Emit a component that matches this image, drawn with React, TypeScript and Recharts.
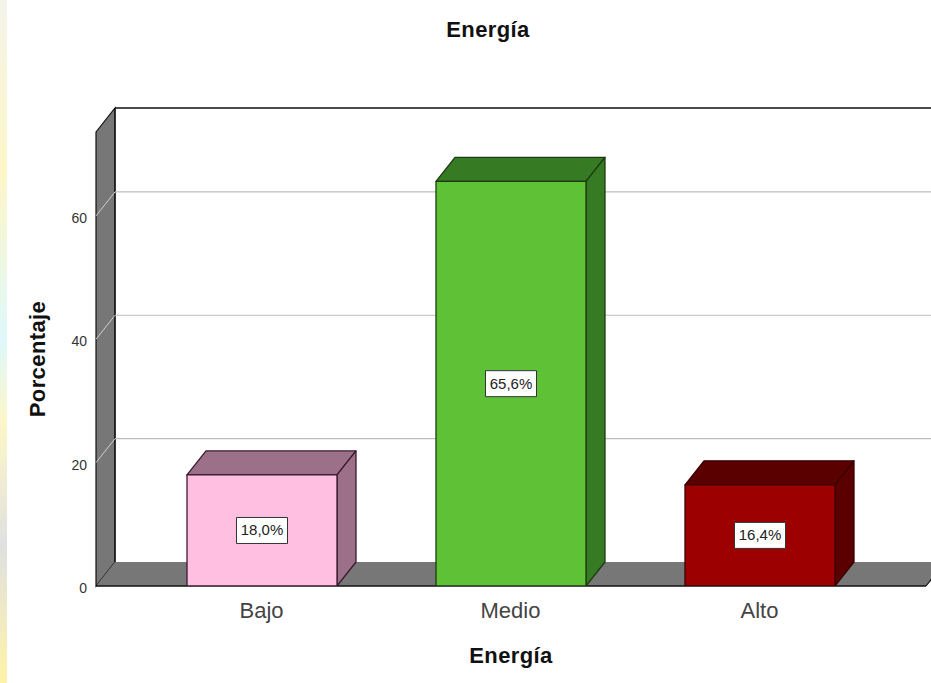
import React from "react";
import { BarChart, Bar, XAxis, YAxis, ReferenceArea, ReferenceLine, Label } from "recharts";

const categories = ["Bajo", "Medio", "Alto"];
const percentages = [18.0, 65.6, 16.4];
const yTicks = [0, 20, 40, 60];
const gridValues = [20, 40, 60];
const frontColors = ["#FFBFE0", "#5FC236", "#9C0000"];
const sideColors = ["#9C7088", "#367A24", "#5A0000"];
const edgeColors = ["#3A1A30", "#1E3A10", "#3A0000"];
const data = categories.map((name, i) => ({ name, value: percentages[i] }));

const DX = 19;
const DY = 24;
const PAD_LEFT = 41;
const PAD_RIGHT = 42;
const FONT = "'Liberation Sans', Arial, sans-serif";

function Bar3D(props: any) {
  const { x, y, width, height, index, value } = props;
  const v = Array.isArray(value) ? value[1] : value;
  const side = sideColors[index];
  const edge = edgeColors[index];
  const cx = x + width / 2;
  const cy = y + height / 2;
  return (
    <g stroke={edge} strokeWidth={1.3} strokeLinejoin="round">
      <polygon points={`${x},${y} ${x + DX},${y - DY} ${x + width + DX},${y - DY} ${x + width},${y}`} fill={side} />
      <polygon points={`${x + width},${y} ${x + width + DX},${y - DY} ${x + width + DX},${y + height - DY} ${x + width},${y + height}`} fill={side} />
      <rect x={x} y={y} width={width} height={height} fill={frontColors[index]} />
      <rect x={cx - 25.5} y={cy - 13} width={51} height={26} fill="#fff" stroke="#333" strokeWidth={1} />
      <text x={cx} y={cy + 5} textAnchor="middle" fontSize={15} fontFamily={FONT} fill="#222" stroke="none">
        {v.toFixed(1).replace(".", ",")}%
      </text>
    </g>
  );
}

function Walls(props: any) {
  const { y, height } = props;
  const x = props.x - PAD_LEFT;
  const r = props.x + props.width + PAD_RIGHT;
  const b = y + height;
  return (
    <g>
      <polygon points={`${x},${y} ${x + DX},${y - DY} ${x + DX},${b - DY} ${x},${b}`} fill="#777" stroke="#111" strokeWidth={1.2} />
      <polygon points={`${x},${b} ${x + DX},${b - DY} ${r + DX},${b - DY} ${r},${b}`} fill="#777" />
      <line x1={x + DX} y1={y - DY} x2={r + DX} y2={y - DY} stroke="#111" strokeWidth={1.6} />
      <line x1={x + DX} y1={y - DY} x2={x + DX} y2={b - DY} stroke="#111" strokeWidth={1.2} />
      <line x1={x} y1={b} x2={r} y2={b} stroke="#111" strokeWidth={1.4} />
      <line x1={r} y1={b} x2={r + DX} y2={b - DY} stroke="#111" strokeWidth={1.2} />
    </g>
  );
}

function GridLine3D(props: any) {
  const { x1, y1, x2, y2 } = props;
  const left = Math.min(x1, x2);
  const right = Math.max(x1, x2);
  return (
    <g>
      <line x1={left} y1={y1} x2={left + DX} y2={y1 - DY} stroke="#cfcfcf" strokeWidth={1} />
      <line x1={left + DX} y1={y2 - DY} x2={right + DX} y2={y2 - DY} stroke="#bdbdbd" strokeWidth={1.2} />
    </g>
  );
}

function YTick(props: any) {
  const { x, y, payload } = props;
  return (
    <text x={x} y={y + 7} textAnchor="end" fontSize={14} fontFamily={FONT} fill="#333">
      {payload.value}
    </text>
  );
}

export default function App() {
  return (
    <div style={{ position: "absolute", left: 0, top: 0, width: 931, height: 683, overflow: "hidden", background: "#fff" }}>
      <div
        style={{
          position: "absolute",
          left: 0,
          top: 0,
          width: 7,
          height: 683,
          background: "linear-gradient(180deg,#f4f4ea 0%,#fdf6c8 25%,#dff8fb 50%,#fdf6c8 62%,#e0e0e0 80%,#fff3a8 100%)",
        }}
      />
      <div
        style={{
          position: "absolute",
          left: 0,
          width: 976,
          top: 18,
          textAlign: "center",
          fontFamily: FONT,
          fontWeight: 700,
          fontSize: 22,
          lineHeight: "24px",
          letterSpacing: 0.4,
          color: "#111",
        }}
      >
        Energía
      </div>
      <BarChart
        width={931}
        height={683}
        data={data}
        margin={{ top: 132, right: 5, bottom: 0, left: 0 }}
        style={{ position: "absolute", left: 0, top: 0 }}
      >
        <XAxis
          dataKey="name"
          height={97}
          padding={{ left: PAD_LEFT, right: PAD_RIGHT }}
          tickLine={false}
          axisLine={false}
          tickMargin={10}
          tick={{ fontSize: 22, fontFamily: FONT, fill: "#444" }}
        >
          <Label
            value="Energía"
            position="insideTop"
            offset={61}
            style={{ fontSize: 22, fontFamily: FONT, fontWeight: 700, fill: "#111", letterSpacing: 0.4 }}
          />
        </XAxis>
        <YAxis
          type="number"
          width={96}
          domain={[0, 73.6]}
          ticks={yTicks}
          allowDataOverflow
          tickLine={false}
          axisLine={false}
          tickSize={0}
          tickMargin={9}
          tick={<YTick />}
        >
          <Label
            value="Porcentaje"
            angle={-90}
            position="insideLeft"
            offset={30}
            dx={7}
            style={{ fontSize: 22, fontFamily: FONT, fontWeight: 700, fill: "#111", textAnchor: "middle", letterSpacing: 0.4 }}
          />
        </YAxis>
        <ReferenceArea y1={0} y2={73.6} ifOverflow="visible" shape={<Walls />} zIndex={100} />
        {gridValues.map((v) => (
          <ReferenceLine key={v} y={v} ifOverflow="visible" shape={<GridLine3D />} zIndex={150} />
        ))}
        <Bar dataKey="value" barSize={150} isAnimationActive={false} shape={<Bar3D />} zIndex={300} />
      </BarChart>
    </div>
  );
}
